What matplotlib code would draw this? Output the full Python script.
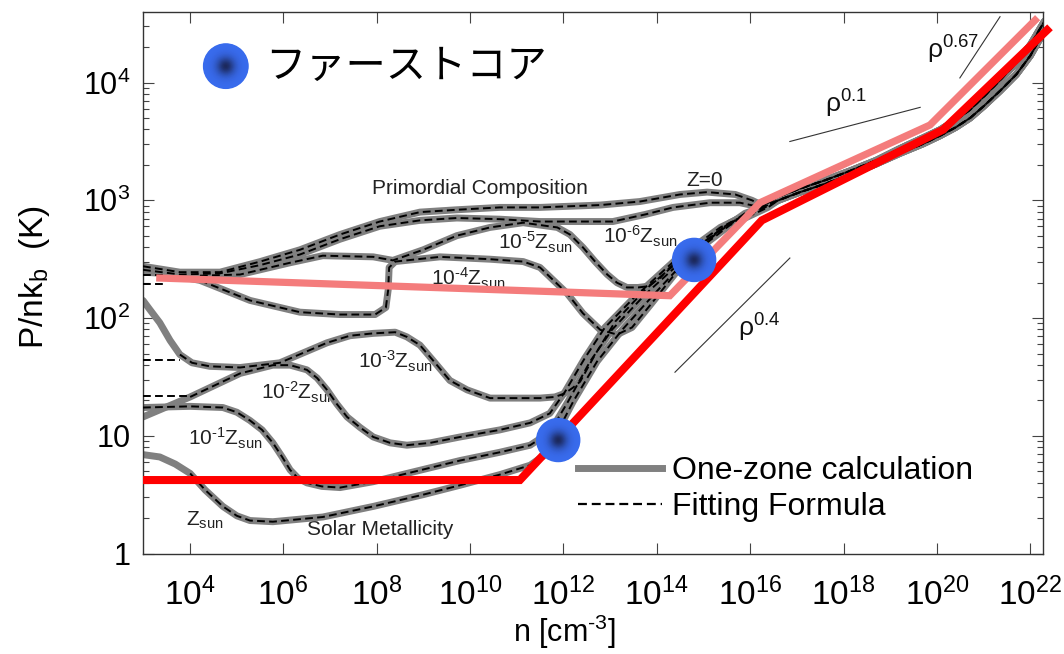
import numpy as np
import matplotlib
matplotlib.use('Agg')
import matplotlib.pyplot as plt
from matplotlib.lines import Line2D
from matplotlib.ticker import FixedLocator, FixedFormatter, LogLocator, NullFormatter, NullLocator

plt.rcParams['font.family'] = ['Liberation Sans', 'DejaVu Sans']
plt.rcParams['mathtext.fontset'] = 'custom'
plt.rcParams['mathtext.rm'] = 'Liberation Sans'
plt.rcParams['mathtext.it'] = 'Liberation Sans:italic'
plt.rcParams['mathtext.default'] = 'regular'

# ---- one-zone curves (log10 n, log10 P/nk) ----
logn_z0 = [3.00, 3.79, 4.65, 5.51, 6.36, 7.22, 8.07, 8.93, 9.72, 10.64, 11.50, 12.79, 13.64, 14.50, 15.08, 15.68, 16.04, 16.25]
logp_z0 = [2.44, 2.39, 2.39, 2.48, 2.58, 2.71, 2.82, 2.90, 2.92, 2.94, 2.94, 2.96, 2.99, 3.05, 3.07, 3.05, 3.00, 2.96]

logn_m6 = [3.00, 3.79, 4.65, 5.51, 6.36, 7.22, 8.07, 8.93, 9.72, 10.64, 11.50, 13.06, 13.75, 14.35, 15.14, 15.78, 16.25]
logp_m6 = [2.41, 2.37, 2.38, 2.45, 2.54, 2.67, 2.78, 2.83, 2.85, 2.84, 2.82, 2.82, 2.88, 2.94, 2.98, 2.98, 2.94]

logn_m5 = [3.00, 4.22, 5.08, 6.15, 6.85, 7.93, 8.35, 9.00, 9.72, 10.43, 11.14, 11.87, 12.14, 12.42, 12.68,
           12.94, 13.15, 13.36, 13.60, 13.81, 14.07, 14.28, 14.93, 15.57, 16.21]
logp_m5 = [2.39, 2.36, 2.37, 2.47, 2.53, 2.52, 2.49, 2.58, 2.70, 2.77, 2.81, 2.77, 2.71, 2.60, 2.48,
           2.37, 2.30, 2.26, 2.26, 2.27, 2.34, 2.43, 2.62, 2.81, 2.94]

logn_m4 = [3.00, 4.22, 5.29, 6.36, 7.22, 7.97, 8.20, 8.25, 8.27, 8.40, 9.36, 10.43, 11.14, 11.50, 12.08, 12.42, 12.79, 13.15, 13.47, 13.86, 14.50, 15.25, 15.89, 16.32]
logp_m4 = [2.41, 2.32, 2.15, 2.05, 2.03, 2.03, 2.09, 2.24, 2.43, 2.48, 2.52, 2.50, 2.48, 2.43, 2.21, 2.04, 1.90, 1.86, 1.92, 2.11, 2.43, 2.71, 2.89, 2.95]

logn_m3 = [3.00, 3.15, 3.36, 3.58, 3.79, 4.05, 4.43, 5.08, 5.93, 6.94, 7.43, 7.93, 8.40, 8.65, 8.93, 9.21,
           9.57, 9.94, 10.43, 11.50, 11.82, 12.03, 12.21, 12.36, 12.68, 13.11, 13.75, 14.61, 15.46, 16.21]
logp_m3 = [2.15, 2.07, 1.96, 1.81, 1.69, 1.62, 1.59, 1.58, 1.62, 1.79, 1.85, 1.87, 1.88, 1.84, 1.77, 1.64,
           1.47, 1.39, 1.32, 1.32, 1.33, 1.36, 1.41, 1.46, 1.69, 1.97, 2.24, 2.53, 2.78, 2.94]

logn_m2 = [3.00, 4.01, 5.08, 5.78, 6.15, 6.51, 6.73, 6.94, 7.15, 7.37, 7.65, 7.93, 8.29, 8.65, 9.15,
           9.79, 10.64, 11.29, 11.71, 12.03, 12.46, 12.89, 13.53, 14.39, 15.36, 16.25]
logp_m2 = [1.16, 1.33, 1.53, 1.60, 1.60, 1.56, 1.49, 1.39, 1.27, 1.16, 1.07, 0.99, 0.94, 0.92, 0.94,
           0.99, 1.05, 1.11, 1.19, 1.37, 1.66, 1.92, 2.18, 2.49, 2.77, 2.94]

logn_m1 = [3.00, 4.01, 4.71, 5.01, 5.29, 5.55, 5.78, 5.98, 6.15, 6.32, 6.51, 6.83, 7.22, 7.93, 8.65,
           9.79, 10.64, 11.29, 11.71, 12.10, 12.57, 13.04, 13.75, 14.61, 15.46, 16.32]
logp_m1 = [1.24, 1.25, 1.24, 1.20, 1.13, 1.05, 0.94, 0.82, 0.71, 0.64, 0.60, 0.57, 0.56, 0.61, 0.68,
           0.79, 0.86, 0.92, 1.03, 1.29, 1.63, 1.90, 2.20, 2.51, 2.78, 2.94]

logn_sun = [3.00, 3.36, 3.69, 4.01, 4.33, 4.71, 5.01, 5.29, 5.78, 6.85, 7.93, 9.00, 9.79, 10.64, 11.29,
            11.61, 11.78, 12.00, 12.21, 12.72, 13.26, 13.96, 14.71, 15.57, 16.38]
logp_sun = [0.84, 0.82, 0.76, 0.68, 0.54, 0.40, 0.32, 0.28, 0.27, 0.31, 0.40, 0.50, 0.58, 0.67, 0.75,
            0.84, 0.96, 1.13, 1.29, 1.63, 1.90, 2.21, 2.53, 2.79, 2.94]

# high density part, upper and lower edge of the bundle
logn_core = [16.6, 17.07, 17.6, 18.14, 18.7, 19.21, 19.7, 20.07, 20.4, 20.71, 21.0, 21.35, 21.7, 22.0, 22.3]
logp_core_hi = [3.03, 3.10, 3.17, 3.25, 3.34, 3.44, 3.53, 3.60, 3.68, 3.77, 3.88, 4.02, 4.17, 4.32, 4.52]
logp_core_lo = [3.00, 3.07, 3.14, 3.22, 3.31, 3.40, 3.48, 3.55, 3.62, 3.70, 3.80, 3.93, 4.07, 4.23, 4.44]

# short fitting-formula stubs at the left edge
stub_logp = [2.37, 2.29, 1.64, 1.34]
stub_logn_end = [3.45, 3.45, 3.79, 4.01]

# highlighted tracks
red_logn = [3.0, 11.07, 16.25, 20.13, 22.42]
red_logp = [0.624, 0.624, 2.83, 3.60, 4.47]
pink_logn = [3.36, 14.28, 16.21, 19.85, 22.10]
pink_logp = [2.34, 2.19, 2.98, 3.64, 4.53]

# first-core points
core_logn = [11.89, 14.80]
core_logp = [0.964, 2.494]

# slope guides
guide_logn = [[14.39, 16.85], [16.85, 19.64], [20.49, 21.35]]
guide_logp = [[1.54, 2.51], [3.50, 3.79], [4.04, 4.56]]
guide_text = ['ρ$^{0.4}$', 'ρ$^{0.1}$', 'ρ$^{0.67}$']
guide_text_logn = [16.2, 18.05, 20.35]
guide_text_logp = [1.92, 3.82, 4.28]

curve_labels = ['Primordial Composition', 'Z=0', '10$^{‐6}$Z$_{sun}$', '10$^{‐5}$Z$_{sun}$',
                '10$^{‐4}$Z$_{sun}$', '10$^{‐3}$Z$_{sun}$', '10$^{‐2}$Z$_{sun}$', '10$^{‐1}$Z$_{sun}$',
                'Z$_{sun}$', 'Solar Metallicity']
label_logn = [10.22, 15.03, 13.64, 11.39, 9.96, 8.40, 6.32, 4.76, 4.33, 8.07]
label_logp = [3.10, 3.17, 2.69, 2.64, 2.34, 1.63, 1.37, 0.98, 0.28, 0.20]

curves = [
    (logn_z0, logp_z0, 0, logp_core_hi),
    (logn_m6, logp_m6, 0, logp_core_hi),
    (logn_m5, logp_m5, 1, logp_core_hi),
    (logn_m4, logp_m4, 1, logp_core_lo),
    (logn_m3, logp_m3, 4, logp_core_hi),
    (logn_m2, logp_m2, 1, logp_core_lo),
    (logn_m1, logp_m1, 0, logp_core_lo),
    (logn_sun, logp_sun, 3, logp_core_lo),
]

fig = plt.figure(figsize=(10.64, 6.54), dpi=100)
ax = fig.add_axes([143 / 1064, 100.5 / 654, 900 / 1064, 541.5 / 654])
ax.set_xscale('log')
ax.set_yscale('log')
ax.set_xlim(1e3, 10 ** 22.27)
ax.set_ylim(1, 10 ** 4.6)

gray = '#808080'
for ln, lp, k, core in curves:
    xx = 10.0 ** np.array(ln + logn_core)
    yy = 10.0 ** np.array(lp + core)
    ax.plot(xx, yy, color=gray, lw=5, solid_capstyle='round', solid_joinstyle='round', zorder=2)
    ax.plot(xx[k:], yy[k:], color='black', lw=1.4, dashes=(4, 2.2), dash_joinstyle='round', zorder=3)

for lp, le in zip(stub_logp, stub_logn_end):
    ax.plot([1e3, 10 ** le], [10 ** lp, 10 ** lp], color='black', lw=1.4, dashes=(4, 2.2), zorder=3)

for gx, gy in zip(guide_logn, guide_logp):
    ax.plot(10.0 ** np.array(gx), 10.0 ** np.array(gy), color='#333333', lw=0.8, zorder=2)
for t, gx, gy in zip(guide_text, guide_text_logn, guide_text_logp):
    ax.text(10 ** gx, 10 ** gy, t, fontsize=19, ha='center', va='center', color='#111111')

for t, lx, ly in zip(curve_labels, label_logn, label_logp):
    ax.text(10 ** lx, 10 ** ly, t, fontsize=15, ha='center', va='center', color='#222222', zorder=1)

ax.plot(10.0 ** np.array(pink_logn), 10.0 ** np.array(pink_logp), color='#F47C7C', lw=5.2,
        solid_joinstyle='miter', zorder=4)
ax.plot(10.0 ** np.array(red_logn), 10.0 ** np.array(red_logp), color='#FF0000', lw=5.8,
        solid_joinstyle='miter', solid_capstyle='butt', zorder=5, clip_on=False)


def blob(x, y, r_pt, transform):
    outer = np.array([0.22, 0.42, 0.93])
    inner = np.array([0.11, 0.16, 0.36])
    n = 40
    for i in range(n):
        t = 1 - i / n
        c = outer + (inner - outer) * np.exp(-(t / 0.40) ** 2)
        ax.scatter([x], [y], s=(2 * r_pt * t) ** 2, color=c, edgecolors='none',
                   zorder=6, transform=transform, clip_on=False)


for cx, cy in zip(core_logn, core_logp):
    blob(10 ** cx, 10 ** cy, 16, ax.transData)

# "first core" key
blob(0.092, 0.900, 16.5, ax.transAxes)
ax.text(0.136, 0.900, 'ファーストコア', transform=ax.transAxes, fontsize=29, va='center', ha='left',
        family=['Noto Sans CJK JP', 'DejaVu Sans'])

handles = [Line2D([], [], color=gray, lw=5),
           Line2D([], [], color='black', lw=1.6, dashes=(4, 2.2))]
ax.legend(handles, ['One-zone calculation', 'Fitting Formula'], loc='upper left',
          bbox_to_anchor=(0.483, 0.180), frameon=False, fontsize=23, handlelength=2.65,
          handletextpad=0.3, labelspacing=0.2, borderpad=0, borderaxespad=0)

ax.xaxis.set_major_locator(FixedLocator(10.0 ** np.arange(4, 23, 2)))
ax.xaxis.set_major_formatter(FixedFormatter(['$10^{%d}$' % k for k in range(4, 23, 2)]))
ax.xaxis.set_minor_locator(NullLocator())
ax.yaxis.set_major_locator(FixedLocator([1, 10, 100, 1000, 10000]))
ax.yaxis.set_major_formatter(FixedFormatter(['1', '10', '$10^2$', '$10^3$', '$10^4$']))
ax.yaxis.set_minor_locator(LogLocator(base=10, subs=np.arange(2, 10)))
ax.yaxis.set_minor_formatter(NullFormatter())
ax.tick_params(which='both', direction='in', top=True, right=True, color='#444444', width=0.8)
ax.tick_params(which='major', length=8)
ax.tick_params(which='minor', length=4)
ax.tick_params(axis='x', pad=17, labelsize=24)
ax.tick_params(axis='y', pad=9, labelsize=22)
for s in ax.spines.values():
    s.set_linewidth(1.0)
    s.set_color('#333333')

fig.text(565 / 1064, 1 - 632 / 654, 'n [cm$^{‐3}$]', fontsize=22, ha='center', va='center')
fig.text(35 / 1064, 1 - 277 / 654, 'P/nk$_b$  (K)', fontsize=24, ha='center', va='center', rotation=90)

fig.savefig('out.png', dpi=100)
